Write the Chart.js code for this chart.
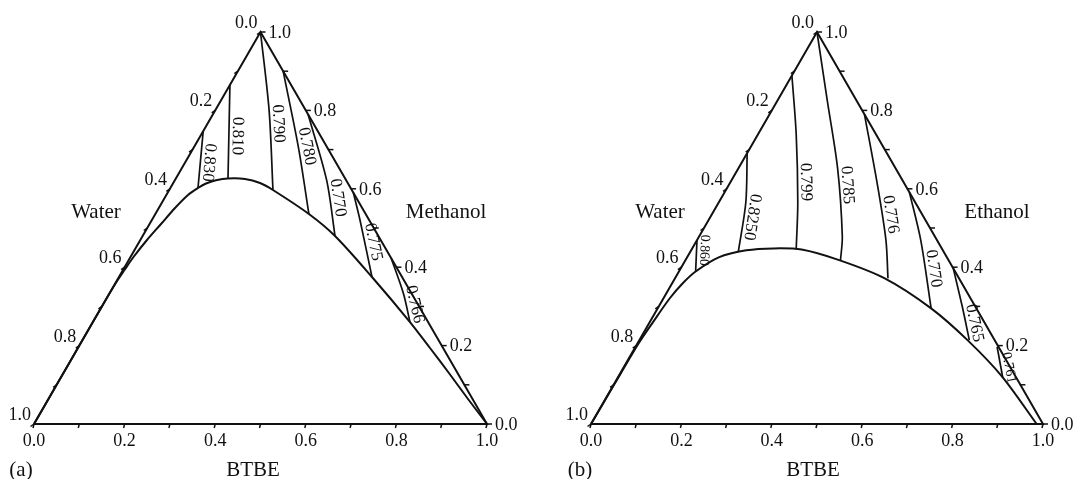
<!DOCTYPE html>
<html><head><meta charset="utf-8">
<script src="https://cdn.jsdelivr.net/npm/chart.js@4.4.1/dist/chart.umd.min.js"></script>
<style>
html,body{margin:0;padding:0;background:#fff;}
#wrap{position:relative;width:1080px;height:479px;overflow:hidden;}
.pane{position:absolute;top:0;width:540px;height:479px;}
</style></head><body>
<div id="wrap">
<div class="pane" style="left:0"><canvas id="ca" width="540" height="479"></canvas></div>
<div class="pane" style="left:540px"><canvas id="cb" width="540" height="479"></canvas></div>
</div>
<script>
// ---- shared axis data (mass fractions) ----
const TICK_STEPS = [0,0.1,0.2,0.3,0.4,0.5,0.6,0.7,0.8,0.9,1.0];
const LABELED_TICKS = [0,0.2,0.4,0.6,0.8,1.0];
const TICK_LABELS = ['0.0','0.2','0.4','0.6','0.8','1.0'];
// triangle outline as [BTBE, alcohol] fractions
const TRIANGLE = [[0,0],[1,0],[0,1],[0,0]];

// ---- panel (a): Water / BTBE / Methanol ----  points are [BTBE, Methanol]
const binodalA = [[0,0],[0,0.1],[0,0.2],[0,0.3265],[0.0011,0.3673],[0.0033,0.3929],[0.0066,0.426],[0.0147,0.4694],[0.0253,0.5102],[0.0358,0.551],[0.0479,0.5842],[0.061,0.602],[0.073,0.6135],[0.0909,0.6217],[0.1151,0.6263],[0.1533,0.625],[0.1915,0.6148],[0.229,0.597],[0.339,0.5357],[0.4247,0.4796],[0.5586,0.375],[0.700,0.260],[0.7772,0.1939],[0.8552,0.1263],[0.9262,0.0638],[1,0]];
const isoValuesA = ['0.830','0.810','0.790','0.780','0.770','0.775','0.766'];
const isoLinesA = [
  [[0,0.747],[0.061,0.602]],
  [[0,0.865],[0.1151,0.6263]],
  [[0,1],[0.119,0.80],[0.229,0.597]],
  [[0.1,0.9],[0.232,0.704],[0.339,0.5357]],
  [[0.21,0.79],[0.335,0.622],[0.4247,0.4796]],
  [[0.41,0.59],[0.459,0.521],[0.5586,0.375]],
  [[0.577,0.423],[0.649,0.333],[0.700,0.260]]
];

// ---- panel (b): Water / BTBE / Ethanol ----  points are [BTBE, Ethanol]
const binodalB = [[0,0],[0.001,0.1],[0.0025,0.206],[0.0072,0.260],[0.0141,0.3214],[0.0237,0.3597],[0.037,0.389],[0.070,0.425],[0.122,0.443],[0.180,0.448],[0.2435,0.445],[0.340,0.418],[0.463,0.372],[0.605,0.295],[0.726,0.214],[0.849,0.121],[0.986,0]];
const isoValuesB = ['0.860','0.8250','0.799','0.785','0.776','0.770','0.765','0.761'];
const isoLinesB = [
  [[0,0.469],[0.037,0.389]],
  [[0,0.691],[0.06,0.565],[0.106,0.440]],
  [[0,0.889],[0.0845,0.739],[0.175,0.565],[0.231,0.446]],
  [[0,1],[0.1096,0.826],[0.2196,0.652],[0.317,0.478],[0.343,0.418]],
  [[0.21,0.79],[0.330,0.608],[0.418,0.469],[0.471,0.372]],
  [[0.409,0.591],[0.495,0.469],[0.605,0.295]],
  [[0.603,0.397],[0.672,0.299],[0.730,0.214]],
  [[0.80,0.197],[0.852,0.118]]
];

const SERIF = '"Liberation Serif","Times New Roman",serif';
const INK = '#111';

function tern(points){ return points.map(([b,m]) => ({x: b + m/2, y: m})); }

const ternaryDeco = {
  id: 'ternaryDeco',
  afterDatasetsDraw(chart, args, o){
    const ctx = chart.ctx, xs = chart.scales.x, ys = chart.scales.y;
    const P = (b,m) => [xs.getPixelForValue(b + m/2), ys.getPixelForValue(m)];
    const seg = (x1,y1,x2,y2) => { ctx.beginPath(); ctx.moveTo(x1,y1); ctx.lineTo(x2,y2); ctx.stroke(); };
    ctx.save();
    ctx.strokeStyle = INK; ctx.fillStyle = INK; ctx.lineWidth = 1.5;
    // tick marks
    TICK_STEPS.forEach(v => {
      let [x,y] = P(v,0); seg(x,y,x-1,y+4);            // bottom (BTBE)
      [x,y] = P(0,1-v); seg(x,y,x-3.5,y+2.5);         // left (Water)
      [x,y] = P(1-v,v); seg(x,y,x+5,y);               // right (alcohol)
    });
    // tick labels
    ctx.font = '18px ' + SERIF;
    LABELED_TICKS.forEach((v,i) => {
      const t = TICK_LABELS[i];
      let [x,y] = P(v,0);
      ctx.textAlign = 'center'; ctx.textBaseline = 'middle'; ctx.fillText(t, x, y+17);
      [x,y] = P(0,1-v);
      ctx.textAlign = 'right'; ctx.textBaseline = 'alphabetic'; ctx.fillText(t, x-3, y-4);
      [x,y] = P(1-v,v);
      ctx.textAlign = 'left'; ctx.textBaseline = 'middle'; ctx.fillText(t, x+8, y+1);
    });
    // component names
    ctx.font = '21px ' + SERIF; ctx.textAlign = 'center'; ctx.textBaseline = 'middle';
    o.names.forEach(n => ctx.fillText(n.text, n.x, n.y));
    // iso-line labels, rotated along the line
    o.isoLines.forEach((line, k) => {
      const pts = line.map(([b,m]) => P(b,m));
      const yT = ys.getPixelForValue(o.labelAt[k]);
      let i = 0;
      while (i < pts.length - 2 && pts[i+1][1] < yT) i++;
      const [x1,y1] = pts[i], [x2,y2] = pts[i+1];
      const f = (yT - y1) / (y2 - y1);
      const x = x1 + f*(x2 - x1);
      const ang = Math.atan2(y2 - y1, x2 - x1);
      ctx.save();
      ctx.translate(x, yT); ctx.rotate(ang);
      ctx.font = (o.small.includes(k) ? '14px ' : '17px ') + SERIF;
      ctx.textAlign = 'center'; ctx.textBaseline = 'alphabetic';
      ctx.fillText(o.isoValues[k], 0, -4);
      ctx.restore();
    });
    ctx.restore();
  }
};

function makeChart(id, binodal, isoLines, pad, deco){
  const ds = [
    {data: tern(TRIANGLE), borderWidth: 2, tension: 0, borderJoinStyle: 'miter'},
    {data: tern(binodal), borderWidth: 2, tension: 0.3},
    ...isoLines.map(l => ({data: tern(l), borderWidth: 1.7, tension: 0.3}))
  ];
  ds.forEach(d => { d.showLine = true; d.pointRadius = 0; d.borderColor = INK; d.fill = false; d.clip = false; });
  return new Chart(document.getElementById(id), {
    type: 'scatter',
    data: {datasets: ds},
    options: {
      responsive: false, animation: false, devicePixelRatio: 1,
      layout: {padding: pad},
      scales: {
        x: {type: 'linear', min: 0, max: 1, display: false},
        y: {type: 'linear', min: 0, max: 1, display: false}
      },
      plugins: {legend: {display: false}, tooltip: {enabled: false}, ternaryDeco: deco}
    },
    plugins: [ternaryDeco]
  });
}

makeChart('ca', binodalA, isoLinesA, {left: 34, right: 53, top: 32, bottom: 55}, {
  names: [{text:'Water', x:96, y:212}, {text:'Methanol', x:446, y:212}, {text:'BTBE', x:253, y:470}, {text:'(a)', x:21, y:470}],
  isoLines: isoLinesA, isoValues: isoValuesA,
  labelAt: [0.669, 0.735, 0.765, 0.704, 0.574, 0.46, 0.30],
  small: []
});
makeChart('cb', binodalB, isoLinesB, {left: 51, right: 37, top: 32, bottom: 55}, {
  names: [{text:'Water', x:120, y:212}, {text:'Ethanol', x:457, y:212}, {text:'BTBE', x:273, y:470}, {text:'(b)', x:40, y:470}],
  isoLines: isoLinesB, isoValues: isoValuesB,
  labelAt: [0.444, 0.531, 0.617, 0.608, 0.531, 0.393, 0.253, 0.14],
  small: [0, 7]
});
</script>
</body></html>
